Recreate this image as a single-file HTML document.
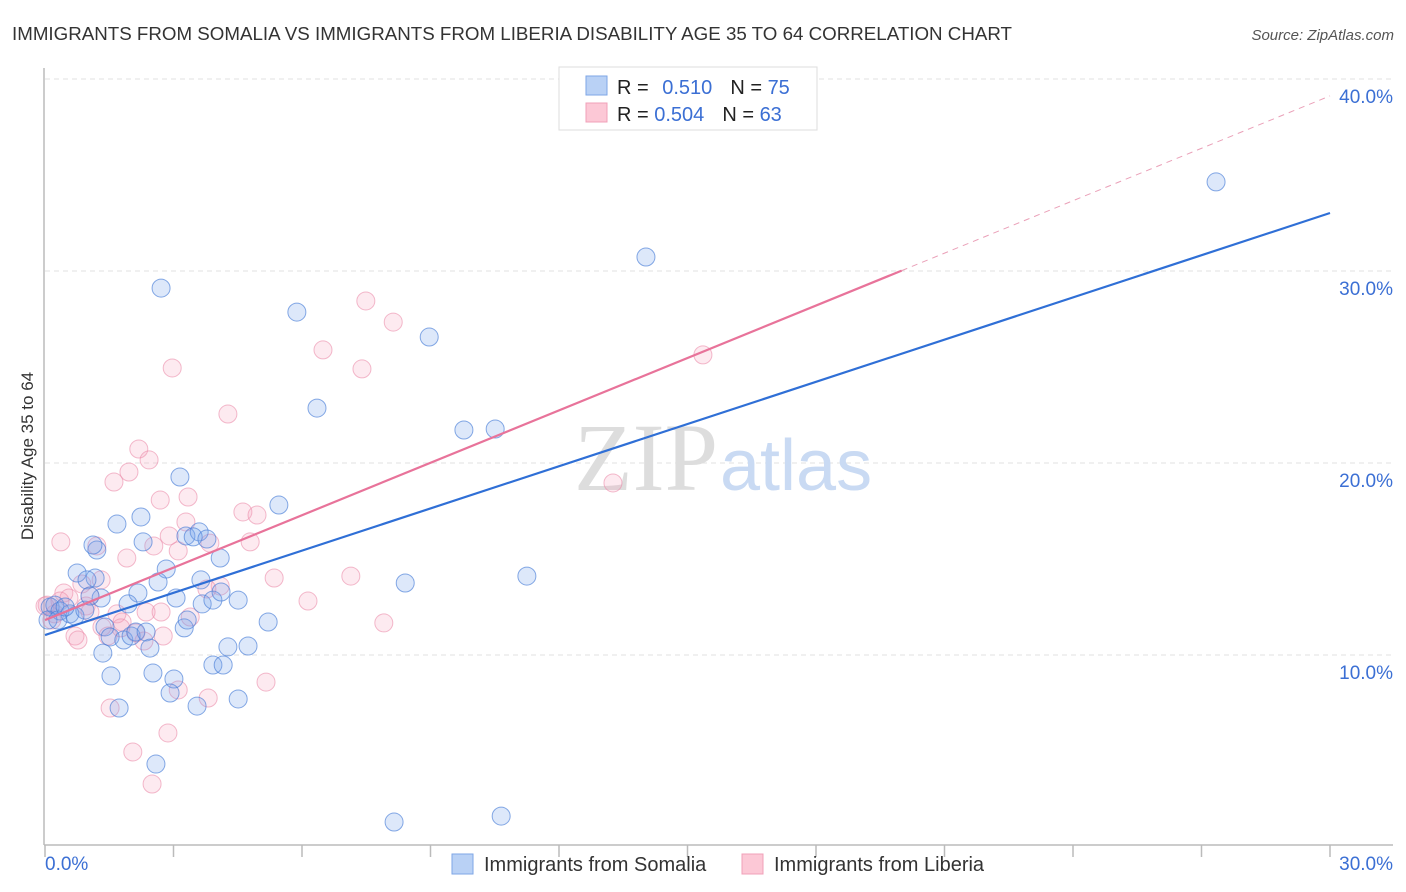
<!DOCTYPE html>
<html><head><meta charset="utf-8"><style>
body{margin:0;background:#fff;font-family:"Liberation Sans",sans-serif}
svg{display:block}
</style></head><body>
<svg id="chart" width="1406" height="892" xmlns="http://www.w3.org/2000/svg" font-family="Liberation Sans, sans-serif">
<text x="12" y="40" font-size="18" fill="#333" textLength="1000" lengthAdjust="spacingAndGlyphs">IMMIGRANTS FROM SOMALIA VS IMMIGRANTS FROM LIBERIA DISABILITY AGE 35 TO 64 CORRELATION CHART</text>
<text x="1394" y="40" font-size="15" fill="#555" text-anchor="end" font-style="italic">Source: ZipAtlas.com</text>
<g id="grid"></g>
<text x="718" y="490" font-size="96" text-anchor="end" fill="#ddd" font-family="Liberation Serif, serif">ZIP</text>
<text x="720" y="490" font-size="72" fill="#c9daf3">atlas</text>
<line x1="44" y1="68" x2="44" y2="845" stroke="#bbb" stroke-width="1.5"/>
<line x1="44" y1="845" x2="1393" y2="845" stroke="#bbb" stroke-width="1.5"/>
<g id="ticks"></g>
<g id="pts"></g>
<g id="trends"></g>
<text transform="translate(33,456) rotate(-90)" font-size="17" fill="#333" text-anchor="middle">Disability Age 35 to 64</text>
<text x="45" y="870" font-size="19" fill="#3b6fd4">0.0%</text>
<text x="1393" y="870" font-size="19" fill="#3b6fd4" text-anchor="end">30.0%</text>
<g>
<rect x="559" y="67" width="258" height="63" fill="#fff" stroke="#ddd"/>
<rect x="586" y="76" width="21" height="19" fill="#b9d1f5" stroke="#7ea6e6"/>
<rect x="586" y="103" width="21" height="19" fill="#fcc8d6" stroke="#f0a0b8"/>
<text x="617" y="94" font-size="20" fill="#222">R = <tspan fill="#3b6fd4" dx="8">0.510</tspan><tspan dx="18" fill="#222">N = </tspan><tspan fill="#3b6fd4">75</tspan></text>
<text x="617" y="121" font-size="20" fill="#222">R = <tspan fill="#3b6fd4">0.504</tspan><tspan dx="18" fill="#222">N = </tspan><tspan fill="#3b6fd4">63</tspan></text>
</g>
<g>
<rect x="452" y="854" width="21" height="20" fill="#b9d1f5" stroke="#7ea6e6"/>
<text x="484" y="871" font-size="20" fill="#333">Immigrants from Somalia</text>
<rect x="742" y="854" width="21" height="20" fill="#fcc8d6" stroke="#f0a0b8"/>
<text x="774" y="871" font-size="20" fill="#333">Immigrants from Liberia</text>
</g>
</svg>
<script>
const yTicks=[10,20,30,40];
const yTickLabels=["10.0%","20.0%","30.0%","40.0%"];
const xTicks=[0,3,6,9,12,15,18,21,24,27,30];
const somaliaX=[2.71,5.88,8.97,6.35,14.03,27.34,9.78,10.51,3.15,5.46,1.68,2.24,1.21,1.12,2.29,3.29,3.60,3.46,3.78,4.09,2.83,2.64,0.75,1.17,0.98,1.31,2.17,1.94,3.06,3.64,3.67,3.92,4.11,4.51,3.25,3.32,5.21,8.41,11.25,0.12,0.23,0.35,0.58,0.07,0.30,0.70,1.40,1.52,1.84,2.01,2.12,2.36,2.45,1.35,4.27,4.74,3.92,4.16,1.54,2.52,3.01,2.92,3.55,4.51,1.73,2.59,8.15,10.65,0.93,0.47,1.05];
const somaliaY=[29.11,27.86,26.56,22.86,30.73,34.64,21.72,21.77,19.27,17.81,16.82,17.19,15.47,15.73,15.89,16.20,16.41,16.15,16.04,15.05,14.48,13.80,14.27,14.01,13.91,12.97,13.23,12.66,12.97,13.91,12.66,12.86,13.28,12.86,11.41,11.82,11.72,13.75,14.11,12.50,12.60,12.29,12.14,11.82,11.82,12.03,11.46,10.94,10.78,10.99,11.20,11.20,10.36,10.10,10.42,10.47,9.48,9.48,8.91,9.06,8.75,8.02,7.34,7.71,7.24,4.32,1.30,1.61,12.34,12.50,13.07];
const liberiaX=[7.49,8.13,6.49,2.97,7.40,15.36,4.27,2.19,2.43,1.96,1.61,2.69,3.34,4.62,4.95,3.29,4.79,0.37,1.21,1.91,2.54,3.11,2.90,3.85,5.35,7.14,13.26,6.14,7.91,5.16,0.44,0.56,0.86,1.31,1.05,0.96,1.68,1.80,1.33,1.47,2.31,2.76,3.39,4.09,3.78,0.05,0.23,0.35,0.70,0.77,2.36,1.77,2.12,3.11,3.81,1.52,2.05,2.87,2.50,0.00,0.16,1.05,2.71];
const liberiaY=[28.44,27.34,25.89,24.95,24.90,25.63,22.55,20.73,20.16,19.53,19.01,18.07,18.23,17.45,17.29,16.93,15.89,15.89,15.68,15.05,15.68,15.42,16.20,15.83,14.01,14.11,18.96,12.81,11.67,8.59,13.23,12.97,13.70,13.91,13.07,12.55,12.14,11.72,11.46,10.99,10.73,10.99,11.98,13.59,13.44,12.60,12.14,12.81,10.99,10.78,12.24,11.41,11.15,8.18,7.76,7.24,4.95,5.94,3.28,12.55,11.82,12.24,12.24];
const somaliaTrend=[11.04,33.02];
const liberiaTrend=[11.82,0.91];
const NS="http://www.w3.org/2000/svg";
const xs=v=>45+v*1285/30;
const ys=v=>847-v*19.2;
function mk(t,a,p){const e=document.createElementNS(NS,t);for(const k in a)e.setAttribute(k,a[k]);p.appendChild(e);return e;}
const grid=document.getElementById('grid');
yTicks.forEach((t,i)=>{
 const l=mk('line',{x1:45,x2:1393,y1:ys(t),y2:ys(t),stroke:'#e2e2e2','stroke-dasharray':'5,4'},grid);
 
 
 const tx=mk('text',{x:1393,y:ys(t)+24,'font-size':19,fill:'#3b6fd4','text-anchor':'end'},grid);
 tx.textContent=yTickLabels[i];
 
 
});
const ticks=document.getElementById('ticks');
xTicks.forEach(t=>{
 const l=mk('line',{x1:xs(t),x2:xs(t),y1:845,y2:857,stroke:'#bbb','stroke-width':1.5},ticks);
 
 
});
const pts=document.getElementById('pts');
function draw(X,Y,fill,stroke,name){
 X.forEach((x,i)=>{
  const c=mk('circle',{cx:xs(x),cy:ys(Y[i]),r:9,fill:fill,stroke:stroke,'stroke-width':1},pts);
  
  
 });
}
draw(liberiaX,liberiaY,'rgba(245,160,185,0.22)','rgba(235,140,170,0.6)','liberia-point');
draw(somaliaX,somaliaY,'rgba(120,165,235,0.25)','rgba(70,125,215,0.65)','somalia-point');
const tr=document.getElementById('trends');
let l1=mk('line',{x1:xs(0),y1:ys(somaliaTrend[0]),x2:xs(30),y2:ys(somaliaTrend[1]),stroke:'#2f6fd6','stroke-width':2.2},tr);


const pl=x=>liberiaTrend[0]+liberiaTrend[1]*x;
let l2=mk('line',{x1:xs(0),y1:ys(pl(0)),x2:xs(20),y2:ys(pl(20)),stroke:'#e8739a','stroke-width':2.2},tr);


let l3=mk('line',{x1:xs(20),y1:ys(pl(20)),x2:xs(30),y2:ys(pl(30)),stroke:'#eaa0b8','stroke-width':1,'stroke-dasharray':'6,5'},tr);


</script>
</body></html>
